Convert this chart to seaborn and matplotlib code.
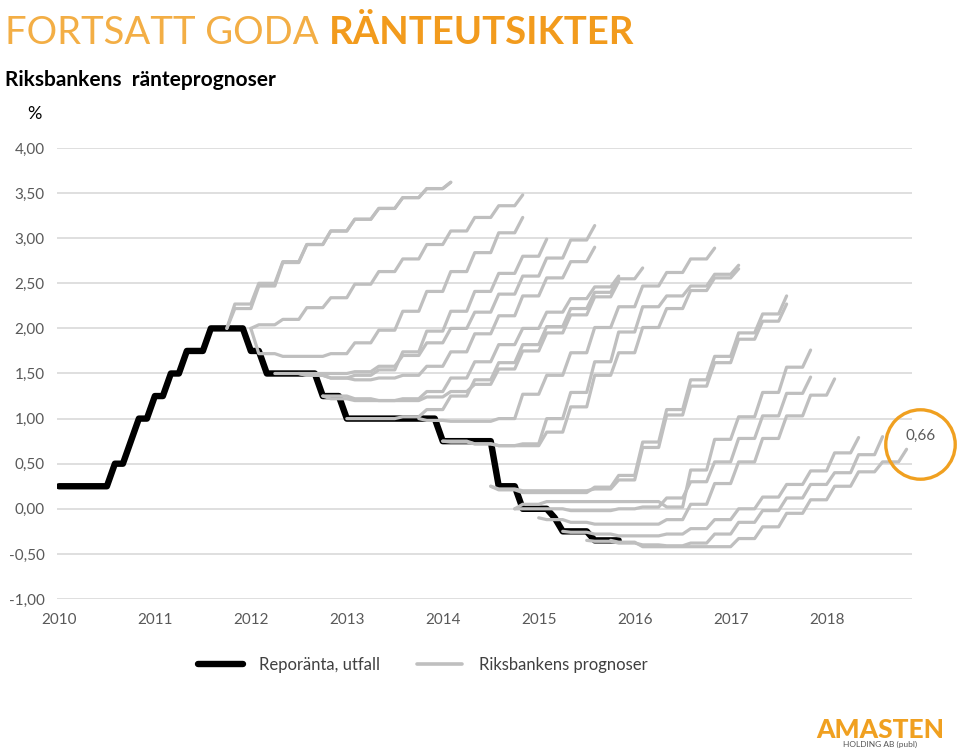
import numpy as np
import pandas as pd
import seaborn as sns
import matplotlib.pyplot as plt
from matplotlib.lines import Line2D
from matplotlib import transforms

# Reporänta, utfall: level and how many months it was held (from Jan 2010)
repo_levels = [0.25, 0.50, 0.75, 1.00, 1.25, 1.50, 1.75, 2.00, 1.75, 1.50,
               1.25, 1.00, 0.75, 0.25, 0.00, -0.10, -0.25, -0.35]
repo_months = [7, 2, 1, 2, 2, 2, 3, 5, 2, 7, 3, 12, 7, 3, 4, 1, 4, 4]

# Riksbankens prognoser: start month (months after Jan 2010), start value,
# then quarterly levels (last level is the end point)
fc_start = [21, 21, 24, 24, 27, 30, 30, 33, 33, 36, 45, 48, 48, 54, 54, 57, 57, 60, 63, 66, 69]
fc_anchor = [2.00, 2.00, 2.00, 2.00, 1.50, 1.50, 1.50, 1.25, 1.25, 1.00, 1.00, 0.75, 0.75,
             0.25, 0.25, 0.00, 0.00, -0.10, -0.25, -0.35, -0.35]
fc_levels = [
    [2.27, 2.50, 2.74, 2.93, 3.08, 3.21, 3.33, 3.45, 3.55, 3.62],
    [2.22, 2.47, 2.73, 2.93, 3.08, 3.21, 3.33, 3.45, 3.55, 3.62],
    [2.04, 2.10, 2.23, 2.34, 2.49, 2.63, 2.77, 2.93, 3.08, 3.23, 3.36, 3.48],
    [1.72, 1.69, 1.69, 1.72, 1.84, 1.98, 2.19, 2.41, 2.63, 2.84, 3.06, 3.23],
    [1.50, 1.48, 1.45, 1.48, 1.54, 1.74, 1.97, 2.19, 2.41, 2.61, 2.80, 2.99],
    [1.50, 1.50, 1.52, 1.58, 1.70, 1.84, 2.00, 2.18, 2.38, 2.58, 2.78, 2.98, 3.14],
    [1.48, 1.45, 1.43, 1.45, 1.48, 1.58, 1.74, 1.94, 2.14, 2.36, 2.56, 2.74, 2.90],
    [1.22, 1.20, 1.20, 1.22, 1.30, 1.45, 1.63, 1.82, 2.00, 2.18, 2.33, 2.46, 2.58],
    [1.25, 1.22, 1.20, 1.20, 1.24, 1.30, 1.38, 1.55, 1.75, 1.95, 2.15, 2.35, 2.52],
    [1.00, 1.00, 1.02, 1.10, 1.25, 1.43, 1.62, 1.82, 2.02, 2.22, 2.40, 2.55, 2.67],
    [0.98, 0.97, 0.97, 1.00, 1.27, 1.48, 1.73, 2.01, 2.24, 2.47, 2.62, 2.77, 2.89],
    [0.75, 0.72, 0.70, 0.72, 1.00, 1.29, 1.63, 1.96, 2.24, 2.36, 2.47, 2.60, 2.70],
    [0.74, 0.72, 0.70, 0.70, 0.85, 1.13, 1.48, 1.73, 2.01, 2.22, 2.42, 2.56, 2.66],
    [0.21, 0.18, 0.18, 0.18, 0.24, 0.37, 0.74, 1.10, 1.43, 1.69, 1.95, 2.16, 2.36],
    [0.22, 0.20, 0.20, 0.20, 0.22, 0.32, 0.68, 1.04, 1.36, 1.62, 1.88, 2.08, 2.27],
    [0.05, 0.08, 0.08, 0.08, 0.08, 0.08, 0.02, 0.43, 0.77, 1.02, 1.29, 1.57, 1.76],
    [0.00, 0.00, -0.02, -0.02, 0.00, 0.02, 0.12, 0.30, 0.52, 0.78, 1.03, 1.28, 1.46],
    [-0.12, -0.15, -0.17, -0.17, -0.17, -0.12, 0.05, 0.28, 0.52, 0.78, 1.03, 1.26, 1.44],
    [-0.26, -0.28, -0.30, -0.30, -0.28, -0.22, -0.12, 0.00, 0.13, 0.27, 0.42, 0.62, 0.79],
    [-0.36, -0.38, -0.40, -0.41, -0.38, -0.28, -0.15, -0.02, 0.12, 0.27, 0.40, 0.60, 0.80],
    [-0.37, -0.42, -0.42, -0.42, -0.42, -0.33, -0.20, -0.05, 0.10, 0.25, 0.41, 0.52, 0.66],
]

years = [2010, 2011, 2012, 2013, 2014, 2015, 2016, 2017, 2018]
y_ticks = [-1.0, -0.5, 0.0, 0.5, 1.0, 1.5, 2.0, 2.5, 3.0, 3.5, 4.0]

# monthly series
repo_y = np.repeat(repo_levels, repo_months)
repo_df = pd.DataFrame({"x": 2010 + np.arange(len(repo_y)) / 12, "y": repo_y})

rows = []
for i, (s, a, lv) in enumerate(zip(fc_start, fc_anchor, fc_levels)):
    vals = np.concatenate([[a], np.repeat(lv[:-1], 3), [lv[-1]]])
    months = s + np.arange(len(vals))
    rows.append(pd.DataFrame({"x": 2010 + months / 12, "y": vals, "id": i}))
fc_df = pd.concat(rows, ignore_index=True)

sns.set_theme(style="white")
plt.rcParams["font.family"] = ["Lato", "DejaVu Sans"]

orange = "#F0A020"
grey = "#BFBFBF"
txt_grey = "#595959"

fig = plt.figure(figsize=(9.6, 7.5), dpi=100)
ax = fig.add_axes([57 / 960, 1 - 599 / 750, (912 - 57) / 960, (599 - 148) / 750])

sns.lineplot(data=repo_df, x="x", y="y", color="black", lw=4.6, ax=ax, zorder=2)
sns.lineplot(data=fc_df, x="x", y="y", units="id", estimator=None, color=grey,
             lw=2.3, ax=ax, zorder=3)

ax.set_xlim(2009.98, 2018.89)
ax.set_ylim(-1, 4)
ax.set_yticks(y_ticks)
ax.set_yticklabels([f"{v:.2f}".replace(".", ",") for v in y_ticks])
ax.set_xticks(years)
ax.set_xticklabels([str(y) for y in years])
ax.tick_params(axis="y", length=0, pad=9, labelsize=11, labelcolor=txt_grey)
ax.tick_params(axis="x", length=0, pad=10, labelsize=11, labelcolor=txt_grey)
ax.set_xlabel("")
ax.set_ylabel("")
for sp in ax.spines.values():
    sp.set_visible(False)
ax.yaxis.grid(True, color="#D9D9D9", lw=1.2)
ax.xaxis.grid(False)
ax.set_axisbelow(True)

# highlight end value of the latest forecast
xe = fc_df[fc_df["id"] == len(fc_levels) - 1]["x"].iloc[-1]
ye = fc_levels[-1][-1]
circ_tr = transforms.offset_copy(ax.transData, fig=fig, x=9.4, y=3.6, units="points")
ax.plot([xe], [ye], marker="o", ms=50, mfc="none", mec=orange, mew=2.4,
        transform=circ_tr, clip_on=False, zorder=5)
txt_tr = transforms.offset_copy(ax.transData, fig=fig, x=10, y=9.5, units="points")
ax.text(xe, ye, f"{ye:.2f}".replace(".", ","), transform=txt_tr, ha="center", va="center",
        fontsize=11, color=txt_grey, clip_on=False)

# titles
t1 = fig.text(5 / 960, 1 - 44 / 750, "FORTSATT GODA ", fontsize=27.5, fontweight="normal",
              color="#F3AE45", va="baseline", ha="left")
fig.canvas.draw()
bb = t1.get_window_extent(renderer=fig.canvas.get_renderer())
fig.text(bb.x1 / fig.bbox.width, 1 - 44 / 750, "RÄNTEUTSIKTER", fontsize=27.5,
         fontweight="bold", color="#F29B1D", va="baseline", ha="left")
fig.text(5 / 960, 1 - 86 / 750, "Riksbankens  ränteprognoser", fontsize=15,
         fontweight="bold", color="black", va="baseline", ha="left")
fig.text(27 / 960, 1 - 119 / 750, "%", fontsize=13, color="black", va="baseline", ha="left")

# legend
handles = [Line2D([0], [0], color="black", lw=4.6),
           Line2D([0], [0], color=grey, lw=2.6)]
leg = fig.legend(handles, ["Reporänta, utfall", "Riksbankens prognoser"], loc="center",
                 bbox_to_anchor=(0.44, 1 - 665 / 750), ncol=2, frameon=False, fontsize=12,
                 handlelength=2.7, columnspacing=2.2, handletextpad=1.0)
for t in leg.get_texts():
    t.set_color("#404040")

# logo
fig.text(880 / 960, 1 - 738 / 750, "AMASTEN", fontsize=19, fontweight="black",
         color=orange, ha="center", va="baseline")
fig.text(880 / 960, 1 - 747 / 750, "HOLDING AB (publ)", fontsize=6, color="#555555",
         ha="center", va="baseline")

fig.savefig("out.png", dpi=100)
